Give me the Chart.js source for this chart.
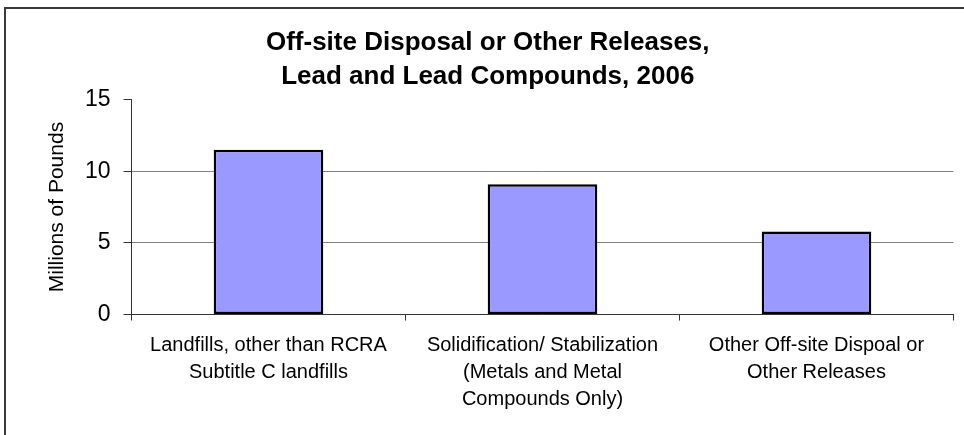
<!DOCTYPE html>
<html lang="en">

<head>
    <meta charset="UTF-8">
    <title>Off-site Disposal or Other Releases, Lead and Lead Compounds, 2006</title>
    <script src="https://cdn.jsdelivr.net/npm/chart.js"></script>
    <style>
        body {
            margin: 0;
            background: #ffffff;
        }

        #wrap {
            width: 964px;
            height: 435px;
        }
    </style>
</head>

<body>
    <div id="wrap">
        <canvas id="barChart" width="964" height="435"></canvas>
    </div>

    <script>
        // Chart data
        const chartTitle = ['Off-site Disposal or Other Releases,', 'Lead and Lead Compounds, 2006'];
        const categories = [
            ['Landfills, other than RCRA', 'Subtitle C landfills'],
            ['Solidification/ Stabilization', '(Metals and Metal', 'Compounds Only)'],
            ['Other Off-site Dispoal or', 'Other Releases']
        ];
        const pounds = [11.5, 9.1, 5.8];
        const yAxisTitle = 'Millions of Pounds';
        const yMin = 0;
        const yMax = 15;
        const yStep = 5;

        const fontFamily = "'Liberation Sans', Arial, sans-serif";
        const axisColor = '#333333';

        // left and top edge of the chart frame
        const framePlugin = {
            id: 'frame',
            afterDraw(chart) {
                const ctx = chart.ctx;
                ctx.save();
                ctx.fillStyle = '#3a3a3a';
                ctx.fillRect(4, 7, 960, 2);
                ctx.fillRect(4, 7, 2, 428);
                ctx.restore();
            }
        };

        const ctx = document.getElementById('barChart').getContext('2d');
        new Chart(ctx, {
            type: 'bar',
            data: {
                labels: categories,
                datasets: [{
                    data: pounds,
                    backgroundColor: '#9999FF',
                    borderColor: '#000000',
                    borderWidth: 2.5,
                    borderSkipped: false,
                    barPercentage: 0.4,
                    categoryPercentage: 1.0
                }]
            },
            options: {
                responsive: false,
                animation: false,
                layout: {
                    padding: { left: 22, right: 10.5, top: 0, bottom: 0 }
                },
                plugins: {
                    legend: { display: false },
                    tooltip: { enabled: false },
                    title: {
                        display: true,
                        text: chartTitle,
                        color: '#000000',
                        font: { family: fontFamily, size: 26, weight: 'bold', lineHeight: 1.3 },
                        padding: { top: 26, bottom: 6 }
                    }
                },
                scales: {
                    x: {
                        grid: {
                            offset: true,
                            drawOnChartArea: false,
                            color: axisColor,
                            tickLength: 6
                        },
                        border: { color: axisColor, width: 1 },
                        ticks: {
                            color: '#000000',
                            maxRotation: 0,
                            autoSkip: false,
                            padding: 12,
                            font: { family: fontFamily, size: 20, lineHeight: 1.335 }
                        },
                        afterFit(scale) {
                            scale.height = 120.5;
                        }
                    },
                    y: {
                        min: yMin,
                        max: yMax,
                        grid: {
                            // no gridline at the top value
                            color: (c) => (c.tick && c.tick.value === yMax) ? 'rgba(0,0,0,0)' : '#808080',
                            tickColor: axisColor,
                            tickLength: 8
                        },
                        border: { color: axisColor, width: 1 },
                        ticks: {
                            stepSize: yStep,
                            color: '#000000',
                            padding: 13,
                            font: { family: fontFamily, size: 23 }
                        },
                        title: {
                            display: true,
                            text: yAxisTitle,
                            color: '#000000',
                            font: { family: fontFamily, size: 21 },
                            padding: { top: 23, bottom: 0 }
                        },
                        afterFit(scale) {
                            scale.width = 109.5;
                        }
                    }
                }
            },
            plugins: [framePlugin]
        });
    </script>
</body>

</html>
